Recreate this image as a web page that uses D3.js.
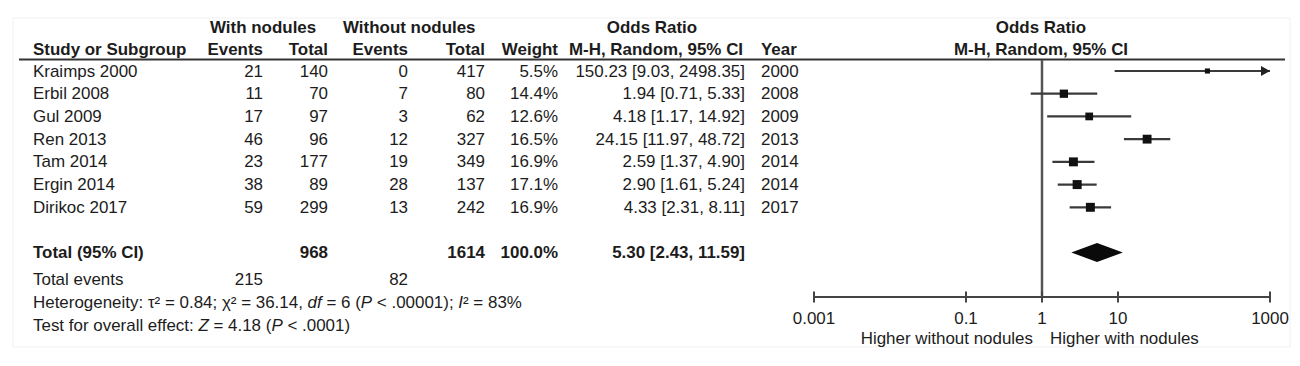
<!DOCTYPE html>
<html><head><meta charset="utf-8">
<script src="https://cdn.jsdelivr.net/npm/d3@7/dist/d3.min.js"></script>
<style>
html,body{margin:0;padding:0;background:#fff;}
svg text{font-family:"Liberation Sans",Arial,sans-serif;fill:#1c1c1c;}
</style></head>
<body><svg id="c" width="1300" height="366"></svg>
<script>
const studies = ["Kraimps 2000","Erbil 2008","Gul 2009","Ren 2013","Tam 2014","Ergin 2014","Dirikoc 2017"];
const withEvents = [21,11,17,46,23,38,59];
const withTotal = [140,70,97,96,177,89,299];
const withoutEvents = [0,7,3,12,19,28,13];
const withoutTotal = [417,80,62,327,349,137,242];
const weights = [5.5,14.4,12.6,16.5,16.9,17.1,16.9];
const orVals = [150.23,1.94,4.18,24.15,2.59,2.90,4.33];
const ciLow = [9.03,0.71,1.17,11.97,1.37,1.61,2.31];
const ciHigh = [2498.35,5.33,14.92,48.72,4.90,5.24,8.11];
const years = [2000,2008,2009,2013,2014,2014,2017];
const totalWith = 968, totalWithout = 1614, totalWeight = 100.0;
const pooled = {or:5.30, lo:2.43, hi:11.59};
const eventsWith = 215, eventsWithout = 82;
const axisTicks = [0.001,0.1,1,10,1000];
const axisTickLabels = ["0.001","0.1","1","10","1000"];

const svg = d3.select("#c");
const FS = 16, SX = 1.06;

svg.append("rect").attr("x",13).attr("y",18).attr("width",1277).attr("height",329)
  .attr("fill","none").attr("stroke","#f1f1f1").attr("stroke-width",1);

function txt(x,y,str,opt={}){
  const t = svg.append("text")
    .attr("transform",`translate(${x},${y}) scale(${SX},1)`)
    .attr("text-anchor",opt.anchor||"start")
    .attr("font-size",opt.fs||FS)
    .attr("font-weight",opt.bold?"bold":"normal");
  if(Array.isArray(str)){
    str.forEach(p=>{
      const s=t.append("tspan").text(p.t);
      if(p.i) s.attr("font-style","italic");
    });
  } else t.text(str);
  return t;
}

const fmt2 = d3.format(".2f");
const y = d3.scalePoint().domain(studies).range([71,207.3]);
const x = d3.scaleLog().domain([0.001,1000]).range([814,1270]);
const sz = d3.scaleSqrt().domain([0,17.1]).range([0,9]);
const B = 5.5; // baseline offset

// headers
txt(210,32.5,"With nodules",{bold:true});
txt(343,32.5,"Without nodules",{bold:true});
txt(652,32.5,"Odds Ratio",{bold:true,anchor:"middle"});
txt(1041,32.5,"Odds Ratio",{bold:true,anchor:"middle"});
txt(33,55,"Study or Subgroup",{bold:true});
txt(263,55,"Events",{bold:true,anchor:"end"});
txt(328,55,"Total",{bold:true,anchor:"end"});
txt(408,55,"Events",{bold:true,anchor:"end"});
txt(485,55,"Total",{bold:true,anchor:"end"});
txt(558,55,"Weight",{bold:true,anchor:"end"});
txt(656,55,"M-H, Random, 95% CI",{bold:true,anchor:"middle"});
txt(761,55,"Year",{bold:true});
txt(1041,55,"M-H, Random, 95% CI",{bold:true,anchor:"middle"});

svg.append("line").attr("x1",19).attr("x2",1285).attr("y1",59.5).attr("y2",59.5)
  .attr("stroke","#333").attr("stroke-width",2);

// rows
studies.forEach((s,i)=>{
  const yy = y(s)+B;
  txt(33,yy,s);
  txt(263,yy,withEvents[i],{anchor:"end"});
  txt(328,yy,withTotal[i],{anchor:"end"});
  txt(408,yy,withoutEvents[i],{anchor:"end"});
  txt(485,yy,withoutTotal[i],{anchor:"end"});
  txt(558,yy,weights[i].toFixed(1)+"%",{anchor:"end"});
  txt(745,yy,`${fmt2(orVals[i])} [${fmt2(ciLow[i])}, ${fmt2(ciHigh[i])}]`,{anchor:"end"});
  txt(761,yy,years[i]);
});

// total
const yT = 252.5, yE = 279, yH = 302.5, yZ = 325;
txt(33,yT+B,"Total (95% CI)",{bold:true});
txt(328,yT+B,totalWith,{bold:true,anchor:"end"});
txt(485,yT+B,totalWithout,{bold:true,anchor:"end"});
txt(558,yT+B,totalWeight.toFixed(1)+"%",{bold:true,anchor:"end"});
txt(745,yT+B,`${fmt2(pooled.or)} [${fmt2(pooled.lo)}, ${fmt2(pooled.hi)}]`,{bold:true,anchor:"end"});
txt(33,yE+B,"Total events");
txt(263,yE+B,eventsWith,{anchor:"end"});
txt(408,yE+B,eventsWithout,{anchor:"end"});
txt(33,yH+B,[{t:"Heterogeneity: τ² = 0.84; χ² = 36.14, "},{t:"df",i:1},{t:" = 6 ("},{t:"P",i:1},{t:" < .00001); "},{t:"I",i:1},{t:"² = 83%"}]);
txt(33,yZ+B,[{t:"Test for overall effect: "},{t:"Z",i:1},{t:" = 4.18 ("},{t:"P",i:1},{t:" < .0001)"}]);

// forest plot
const axisY = 297;
svg.append("line").attr("x1",x(1)).attr("x2",x(1)).attr("y1",60).attr("y2",axisY)
  .attr("stroke","#555").attr("stroke-width",2.5);

const g = svg.append("g");
studies.forEach((s,i)=>{
  const yy = y(s);
  const hiC = Math.min(ciHigh[i],1000);
  g.append("line").attr("x1",x(ciLow[i])).attr("x2",x(hiC)).attr("y1",yy).attr("y2",yy)
    .attr("stroke","#3a3a3a").attr("stroke-width",2.2);
  if(ciHigh[i]>1000){
    const xe = x(1000);
    g.append("path").attr("d",`M${xe-9},${yy-5}L${xe},${yy}L${xe-9},${yy+5}Z`).attr("fill","#222");
  }
  const w = sz(weights[i]);
  g.append("rect").attr("x",x(orVals[i])-w/2).attr("y",yy-w/2).attr("width",w).attr("height",w)
    .attr("fill","#111");
});
// diamond
g.append("path").attr("d",`M${x(pooled.lo)},${yT}L${x(pooled.or)},${yT-9.5}L${x(pooled.hi)},${yT}L${x(pooled.or)},${yT+9.5}Z`)
  .attr("fill","#0a0a0a");

// axis
const ax = svg.append("g").attr("transform",`translate(0,${axisY})`)
  .call(d3.axisBottom(x).tickValues(axisTicks).tickFormat((d,i)=>axisTickLabels[i]).tickSize(0).tickPadding(0));
ax.select(".domain").remove();
ax.selectAll("text").remove();
svg.append("line").attr("x1",x(0.001)).attr("x2",x(1000)).attr("y1",axisY).attr("y2",axisY)
  .attr("stroke","#444").attr("stroke-width",2);
axisTicks.forEach((t,i)=>{
  svg.append("line").attr("x1",x(t)).attr("x2",x(t)).attr("y1",axisY-5.5).attr("y2",axisY+5.5)
    .attr("stroke","#444").attr("stroke-width",2);
  txt(x(t),318+B,axisTickLabels[i],{anchor:"middle"});
});
txt(1033,338+B,"Higher without nodules",{anchor:"end"});
txt(1050,338+B,"Higher with nodules");
</script></body></html>
